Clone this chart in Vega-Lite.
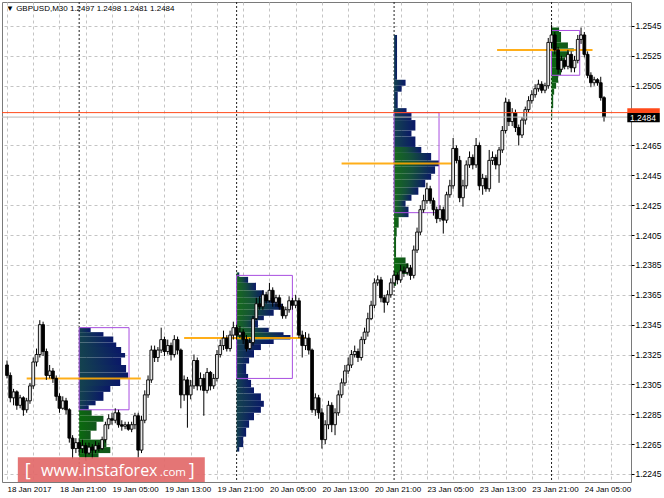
{
"$schema": "https://vega.github.io/schema/vega-lite/v6.json",
"width": 629, "height": 480,
"autosize": {"type": "none"},
"padding": {"left": 2, "top": 2, "right": 33, "bottom": 16},
"background": "#ffffff",
"title": {"text": "▼ GBPUSD,M30  1.2497 1.2498 1.2481 1.2484", "anchor": "start", "frame": "group", "offset": -11, "dx": 4, "fontSize": 8, "font": "Liberation Sans", "fontWeight": "normal", "color": "#000000"},
"config": {"view": {"stroke": "#7a7a7a", "strokeWidth": 1}},
"resolve": {"axis": {"x": "independent", "y": "independent"}},
"datasets": {
"candles": [
{"i":0,"o":1.2318,"h":1.2321,"l":1.2309,"c":1.2311},
{"i":1,"o":1.2311,"h":1.2313,"l":1.2293,"c":1.2296},
{"i":2,"o":1.2296,"h":1.2302,"l":1.2291,"c":1.2300},
{"i":3,"o":1.2300,"h":1.2301,"l":1.2288,"c":1.2291},
{"i":4,"o":1.2291,"h":1.2298,"l":1.2289,"c":1.2296},
{"i":5,"o":1.2296,"h":1.2297,"l":1.2284,"c":1.2288},
{"i":6,"o":1.2288,"h":1.2296,"l":1.2286,"c":1.2294},
{"i":7,"o":1.2294,"h":1.2306,"l":1.2292,"c":1.2304},
{"i":8,"o":1.2304,"h":1.2323,"l":1.2302,"c":1.2320},
{"i":9,"o":1.2320,"h":1.2329,"l":1.2317,"c":1.2325},
{"i":10,"o":1.2325,"h":1.2348,"l":1.2323,"c":1.2345},
{"i":11,"o":1.2345,"h":1.2347,"l":1.2324,"c":1.2327},
{"i":12,"o":1.2327,"h":1.2329,"l":1.2308,"c":1.2311},
{"i":13,"o":1.2311,"h":1.2318,"l":1.2309,"c":1.2314},
{"i":14,"o":1.2314,"h":1.2316,"l":1.2306,"c":1.2309},
{"i":15,"o":1.2309,"h":1.2311,"l":1.2294,"c":1.2297},
{"i":16,"o":1.2297,"h":1.2299,"l":1.2286,"c":1.2289},
{"i":17,"o":1.2289,"h":1.2297,"l":1.2288,"c":1.2294},
{"i":18,"o":1.2294,"h":1.2296,"l":1.2285,"c":1.2288},
{"i":19,"o":1.2288,"h":1.2289,"l":1.2266,"c":1.2269},
{"i":20,"o":1.2269,"h":1.2271,"l":1.2255,"c":1.2262},
{"i":21,"o":1.2262,"h":1.2269,"l":1.2259,"c":1.2266},
{"i":22,"o":1.2266,"h":1.2268,"l":1.2258,"c":1.2262},
{"i":23,"o":1.2262,"h":1.2268,"l":1.2259,"c":1.2264},
{"i":24,"o":1.2264,"h":1.2266,"l":1.2254,"c":1.2259},
{"i":25,"o":1.2259,"h":1.2266,"l":1.2258,"c":1.2263},
{"i":26,"o":1.2263,"h":1.2265,"l":1.2255,"c":1.2261},
{"i":27,"o":1.2261,"h":1.2267,"l":1.2259,"c":1.2264},
{"i":28,"o":1.2264,"h":1.2266,"l":1.2260,"c":1.2262},
{"i":29,"o":1.2262,"h":1.2270,"l":1.2261,"c":1.2268},
{"i":30,"o":1.2268,"h":1.2280,"l":1.2266,"c":1.2278},
{"i":31,"o":1.2278,"h":1.2285,"l":1.2275,"c":1.2282},
{"i":32,"o":1.2282,"h":1.2286,"l":1.2278,"c":1.2281},
{"i":33,"o":1.2281,"h":1.2289,"l":1.2279,"c":1.2286},
{"i":34,"o":1.2286,"h":1.2288,"l":1.2276,"c":1.2278},
{"i":35,"o":1.2278,"h":1.2281,"l":1.2274,"c":1.2277},
{"i":36,"o":1.2277,"h":1.2280,"l":1.2275,"c":1.2278},
{"i":37,"o":1.2278,"h":1.2280,"l":1.2274,"c":1.2275},
{"i":38,"o":1.2275,"h":1.2280,"l":1.2273,"c":1.2278},
{"i":39,"o":1.2278,"h":1.2286,"l":1.2275,"c":1.2284},
{"i":40,"o":1.2284,"h":1.2286,"l":1.2256,"c":1.2261},
{"i":41,"o":1.2261,"h":1.2284,"l":1.2259,"c":1.2281},
{"i":42,"o":1.2281,"h":1.2301,"l":1.2279,"c":1.2298},
{"i":43,"o":1.2298,"h":1.2311,"l":1.2296,"c":1.2308},
{"i":44,"o":1.2308,"h":1.2331,"l":1.2306,"c":1.2328},
{"i":45,"o":1.2328,"h":1.2331,"l":1.2320,"c":1.2323},
{"i":46,"o":1.2323,"h":1.2330,"l":1.2320,"c":1.2328},
{"i":47,"o":1.2328,"h":1.2343,"l":1.2326,"c":1.2335},
{"i":48,"o":1.2335,"h":1.2337,"l":1.2324,"c":1.2327},
{"i":49,"o":1.2327,"h":1.2335,"l":1.2325,"c":1.2331},
{"i":50,"o":1.2331,"h":1.2333,"l":1.2321,"c":1.2325},
{"i":51,"o":1.2325,"h":1.2338,"l":1.2323,"c":1.2335},
{"i":52,"o":1.2335,"h":1.2337,"l":1.2325,"c":1.2328},
{"i":53,"o":1.2328,"h":1.2329,"l":1.2289,"c":1.2298},
{"i":54,"o":1.2298,"h":1.2311,"l":1.2294,"c":1.2308},
{"i":55,"o":1.2308,"h":1.2310,"l":1.2276,"c":1.2298},
{"i":56,"o":1.2298,"h":1.2308,"l":1.2295,"c":1.2304},
{"i":57,"o":1.2304,"h":1.2325,"l":1.2302,"c":1.2321},
{"i":58,"o":1.2321,"h":1.2323,"l":1.2301,"c":1.2304},
{"i":59,"o":1.2304,"h":1.2313,"l":1.2301,"c":1.2309},
{"i":60,"o":1.2309,"h":1.2312,"l":1.2284,"c":1.2301},
{"i":61,"o":1.2301,"h":1.2316,"l":1.2299,"c":1.2313},
{"i":62,"o":1.2313,"h":1.2314,"l":1.2301,"c":1.2304},
{"i":63,"o":1.2304,"h":1.2312,"l":1.2302,"c":1.2309},
{"i":64,"o":1.2309,"h":1.2328,"l":1.2307,"c":1.2325},
{"i":65,"o":1.2325,"h":1.2335,"l":1.2323,"c":1.2331},
{"i":66,"o":1.2331,"h":1.2341,"l":1.2328,"c":1.2336},
{"i":67,"o":1.2336,"h":1.2338,"l":1.2327,"c":1.2329},
{"i":68,"o":1.2329,"h":1.2341,"l":1.2327,"c":1.2338},
{"i":69,"o":1.2338,"h":1.2347,"l":1.2335,"c":1.2343},
{"i":70,"o":1.2343,"h":1.2345,"l":1.2335,"c":1.2338},
{"i":71,"o":1.2338,"h":1.2344,"l":1.2336,"c":1.2340},
{"i":72,"o":1.2340,"h":1.2342,"l":1.2332,"c":1.2335},
{"i":73,"o":1.2335,"h":1.2338,"l":1.2327,"c":1.2329},
{"i":74,"o":1.2329,"h":1.2336,"l":1.2328,"c":1.2333},
{"i":75,"o":1.2333,"h":1.2351,"l":1.2331,"c":1.2349},
{"i":76,"o":1.2349,"h":1.2363,"l":1.2348,"c":1.2359},
{"i":77,"o":1.2359,"h":1.2364,"l":1.2355,"c":1.2357},
{"i":78,"o":1.2357,"h":1.2368,"l":1.2355,"c":1.2365},
{"i":79,"o":1.2365,"h":1.2367,"l":1.2359,"c":1.2361},
{"i":80,"o":1.2361,"h":1.2373,"l":1.2360,"c":1.2368},
{"i":81,"o":1.2368,"h":1.2370,"l":1.2357,"c":1.2360},
{"i":82,"o":1.2360,"h":1.2365,"l":1.2357,"c":1.2363},
{"i":83,"o":1.2363,"h":1.2365,"l":1.2355,"c":1.2357},
{"i":84,"o":1.2357,"h":1.2359,"l":1.2349,"c":1.2351},
{"i":85,"o":1.2351,"h":1.2357,"l":1.2349,"c":1.2355},
{"i":86,"o":1.2355,"h":1.2364,"l":1.2353,"c":1.2361},
{"i":87,"o":1.2361,"h":1.2363,"l":1.2355,"c":1.2358},
{"i":88,"o":1.2358,"h":1.2365,"l":1.2356,"c":1.2361},
{"i":89,"o":1.2361,"h":1.2363,"l":1.2336,"c":1.2338},
{"i":90,"o":1.2338,"h":1.2341,"l":1.2323,"c":1.2331},
{"i":91,"o":1.2331,"h":1.2340,"l":1.2328,"c":1.2336},
{"i":92,"o":1.2336,"h":1.2339,"l":1.2325,"c":1.2328},
{"i":93,"o":1.2328,"h":1.2329,"l":1.2286,"c":1.2288},
{"i":94,"o":1.2288,"h":1.2299,"l":1.2284,"c":1.2296},
{"i":95,"o":1.2296,"h":1.2298,"l":1.2282,"c":1.2286},
{"i":96,"o":1.2286,"h":1.2289,"l":1.2262,"c":1.2268},
{"i":97,"o":1.2268,"h":1.2281,"l":1.2265,"c":1.2278},
{"i":98,"o":1.2278,"h":1.2294,"l":1.2275,"c":1.2291},
{"i":99,"o":1.2291,"h":1.2293,"l":1.2273,"c":1.2278},
{"i":100,"o":1.2278,"h":1.2289,"l":1.2271,"c":1.2286},
{"i":101,"o":1.2286,"h":1.2301,"l":1.2284,"c":1.2298},
{"i":102,"o":1.2298,"h":1.2309,"l":1.2296,"c":1.2306},
{"i":103,"o":1.2306,"h":1.2318,"l":1.2304,"c":1.2314},
{"i":104,"o":1.2314,"h":1.2323,"l":1.2312,"c":1.2318},
{"i":105,"o":1.2318,"h":1.2328,"l":1.2316,"c":1.2325},
{"i":106,"o":1.2325,"h":1.2331,"l":1.2323,"c":1.2327},
{"i":107,"o":1.2327,"h":1.2329,"l":1.2320,"c":1.2323},
{"i":108,"o":1.2323,"h":1.2337,"l":1.2321,"c":1.2335},
{"i":109,"o":1.2335,"h":1.2343,"l":1.2332,"c":1.2340},
{"i":110,"o":1.2340,"h":1.2353,"l":1.2337,"c":1.2349},
{"i":111,"o":1.2349,"h":1.2361,"l":1.2348,"c":1.2358},
{"i":112,"o":1.2358,"h":1.2376,"l":1.2356,"c":1.2373},
{"i":113,"o":1.2373,"h":1.2378,"l":1.2371,"c":1.2375},
{"i":114,"o":1.2375,"h":1.2377,"l":1.2360,"c":1.2363},
{"i":115,"o":1.2363,"h":1.2365,"l":1.2353,"c":1.2360},
{"i":116,"o":1.2360,"h":1.2368,"l":1.2358,"c":1.2365},
{"i":117,"o":1.2365,"h":1.2376,"l":1.2363,"c":1.2373},
{"i":118,"o":1.2373,"h":1.2381,"l":1.2371,"c":1.2378},
{"i":119,"o":1.2378,"h":1.2380,"l":1.2372,"c":1.2375},
{"i":120,"o":1.2375,"h":1.2385,"l":1.2373,"c":1.2381},
{"i":121,"o":1.2381,"h":1.2384,"l":1.2377,"c":1.2380},
{"i":122,"o":1.2380,"h":1.2386,"l":1.2378,"c":1.2383},
{"i":123,"o":1.2383,"h":1.2385,"l":1.2375,"c":1.2378},
{"i":124,"o":1.2378,"h":1.2398,"l":1.2376,"c":1.2395},
{"i":125,"o":1.2395,"h":1.2410,"l":1.2393,"c":1.2407},
{"i":126,"o":1.2407,"h":1.2425,"l":1.2405,"c":1.2422},
{"i":127,"o":1.2422,"h":1.2432,"l":1.2420,"c":1.2428},
{"i":128,"o":1.2428,"h":1.2440,"l":1.2426,"c":1.2436},
{"i":129,"o":1.2436,"h":1.2438,"l":1.2426,"c":1.2428},
{"i":130,"o":1.2428,"h":1.2430,"l":1.2418,"c":1.2422},
{"i":131,"o":1.2422,"h":1.2424,"l":1.2413,"c":1.2416},
{"i":132,"o":1.2416,"h":1.2425,"l":1.2414,"c":1.2422},
{"i":133,"o":1.2422,"h":1.2424,"l":1.2406,"c":1.2415},
{"i":134,"o":1.2415,"h":1.2434,"l":1.2413,"c":1.2432},
{"i":135,"o":1.2432,"h":1.2442,"l":1.2430,"c":1.2438},
{"i":136,"o":1.2438,"h":1.2470,"l":1.2436,"c":1.2463},
{"i":137,"o":1.2463,"h":1.2465,"l":1.2453,"c":1.2455},
{"i":138,"o":1.2455,"h":1.2458,"l":1.2427,"c":1.2430},
{"i":139,"o":1.2430,"h":1.2442,"l":1.2424,"c":1.2438},
{"i":140,"o":1.2438,"h":1.2455,"l":1.2436,"c":1.2452},
{"i":141,"o":1.2452,"h":1.2461,"l":1.2450,"c":1.2457},
{"i":142,"o":1.2457,"h":1.2459,"l":1.2449,"c":1.2452},
{"i":143,"o":1.2452,"h":1.2470,"l":1.2450,"c":1.2465},
{"i":144,"o":1.2465,"h":1.2467,"l":1.2435,"c":1.2438},
{"i":145,"o":1.2438,"h":1.2446,"l":1.2432,"c":1.2443},
{"i":146,"o":1.2443,"h":1.2445,"l":1.2434,"c":1.2436},
{"i":147,"o":1.2436,"h":1.2462,"l":1.2434,"c":1.2455},
{"i":148,"o":1.2455,"h":1.2461,"l":1.2452,"c":1.2457},
{"i":149,"o":1.2457,"h":1.2459,"l":1.2449,"c":1.2452},
{"i":150,"o":1.2452,"h":1.2464,"l":1.2440,"c":1.2462},
{"i":151,"o":1.2462,"h":1.2478,"l":1.2460,"c":1.2475},
{"i":152,"o":1.2475,"h":1.2497,"l":1.2473,"c":1.2494},
{"i":153,"o":1.2494,"h":1.2496,"l":1.2478,"c":1.2481},
{"i":154,"o":1.2481,"h":1.2490,"l":1.2478,"c":1.2487},
{"i":155,"o":1.2487,"h":1.2489,"l":1.2474,"c":1.2477},
{"i":156,"o":1.2477,"h":1.2479,"l":1.2465,"c":1.2472},
{"i":157,"o":1.2472,"h":1.2484,"l":1.2470,"c":1.2482},
{"i":158,"o":1.2482,"h":1.2491,"l":1.2479,"c":1.2489},
{"i":159,"o":1.2489,"h":1.2498,"l":1.2487,"c":1.2495},
{"i":160,"o":1.2495,"h":1.2502,"l":1.2493,"c":1.2499},
{"i":161,"o":1.2499,"h":1.2506,"l":1.2497,"c":1.2503},
{"i":162,"o":1.2503,"h":1.2509,"l":1.2501,"c":1.2506},
{"i":163,"o":1.2506,"h":1.2508,"l":1.2500,"c":1.2502},
{"i":164,"o":1.2502,"h":1.2507,"l":1.2500,"c":1.2505},
{"i":165,"o":1.2505,"h":1.2537,"l":1.2503,"c":1.2534},
{"i":166,"o":1.2534,"h":1.2546,"l":1.2530,"c":1.2539},
{"i":167,"o":1.2539,"h":1.2541,"l":1.2526,"c":1.2529},
{"i":168,"o":1.2529,"h":1.2531,"l":1.2513,"c":1.2516},
{"i":169,"o":1.2516,"h":1.2525,"l":1.2514,"c":1.2522},
{"i":170,"o":1.2522,"h":1.2524,"l":1.2516,"c":1.2518},
{"i":171,"o":1.2518,"h":1.2529,"l":1.2516,"c":1.2526},
{"i":172,"o":1.2526,"h":1.2528,"l":1.2514,"c":1.2517},
{"i":173,"o":1.2517,"h":1.2525,"l":1.2514,"c":1.2522},
{"i":174,"o":1.2522,"h":1.2539,"l":1.2520,"c":1.2536},
{"i":175,"o":1.2536,"h":1.2544,"l":1.2533,"c":1.2539},
{"i":176,"o":1.2539,"h":1.2541,"l":1.2524,"c":1.2526},
{"i":177,"o":1.2526,"h":1.2528,"l":1.2510,"c":1.2512},
{"i":178,"o":1.2512,"h":1.2514,"l":1.2504,"c":1.2507},
{"i":179,"o":1.2507,"h":1.2511,"l":1.2505,"c":1.2509},
{"i":180,"o":1.2509,"h":1.2510,"l":1.2505,"c":1.2507},
{"i":181,"o":1.2507,"h":1.2511,"l":1.2495,"c":1.2497},
{"i":182,"o":1.2497,"h":1.2498,"l":1.2481,"c":1.2484}
],
"profile": [
{"d":22,"e":25.5,"lo":1.2340,"hi":1.2343,"t":"n"},
{"d":22,"e":29.4,"lo":1.2337,"hi":1.2340,"t":"n"},
{"d":22,"e":32.4,"lo":1.2333,"hi":1.2337,"t":"n"},
{"d":22,"e":33.3,"lo":1.2330,"hi":1.2333,"t":"n"},
{"d":22,"e":34.8,"lo":1.2326,"hi":1.2330,"t":"n"},
{"d":22,"e":36.0,"lo":1.2323,"hi":1.2326,"t":"n"},
{"d":22,"e":34.8,"lo":1.2318,"hi":1.2323,"t":"n"},
{"d":22,"e":36.3,"lo":1.2313,"hi":1.2318,"t":"n"},
{"d":22,"e":36.9,"lo":1.2309,"hi":1.2313,"t":"n"},
{"d":22,"e":34.5,"lo":1.2304,"hi":1.2309,"t":"n"},
{"d":22,"e":31.5,"lo":1.2300,"hi":1.2304,"t":"n"},
{"d":22,"e":29.4,"lo":1.2294,"hi":1.2300,"t":"n"},
{"d":22,"e":27.0,"lo":1.2291,"hi":1.2294,"t":"n"},
{"d":22,"e":24.9,"lo":1.2288,"hi":1.2291,"t":"n"},
{"d":22,"e":25.8,"lo":1.2284,"hi":1.2288,"t":"g"},
{"d":22,"e":29.4,"lo":1.2280,"hi":1.2284,"t":"g"},
{"d":22,"e":27.3,"lo":1.2274,"hi":1.2280,"t":"g"},
{"d":22,"e":25.5,"lo":1.2268,"hi":1.2274,"t":"g"},
{"d":22,"e":30.3,"lo":1.2263,"hi":1.2268,"t":"g"},
{"d":22,"e":31.5,"lo":1.2259,"hi":1.2263,"t":"g"},
{"d":22,"e":27.9,"lo":1.2256,"hi":1.2259,"t":"g"},
{"d":70,"e":70.8,"lo":1.2377,"hi":1.2380,"t":"b"},
{"d":70,"e":73.5,"lo":1.2373,"hi":1.2377,"t":"b"},
{"d":70,"e":75.9,"lo":1.2368,"hi":1.2373,"t":"b"},
{"d":70,"e":78.3,"lo":1.2363,"hi":1.2368,"t":"b"},
{"d":70,"e":82.5,"lo":1.2359,"hi":1.2363,"t":"b"},
{"d":70,"e":84.0,"lo":1.2355,"hi":1.2359,"t":"b"},
{"d":70,"e":81.3,"lo":1.2351,"hi":1.2355,"t":"b"},
{"d":70,"e":78.3,"lo":1.2348,"hi":1.2351,"t":"b"},
{"d":70,"e":76.5,"lo":1.2343,"hi":1.2348,"t":"b"},
{"d":70,"e":79.8,"lo":1.2340,"hi":1.2343,"t":"b"},
{"d":70,"e":84.3,"lo":1.2338,"hi":1.2340,"t":"b"},
{"d":70,"e":86.4,"lo":1.2335,"hi":1.2338,"t":"b"},
{"d":70,"e":81.3,"lo":1.2332,"hi":1.2335,"t":"n"},
{"d":70,"e":77.4,"lo":1.2328,"hi":1.2332,"t":"n"},
{"d":70,"e":75.3,"lo":1.2323,"hi":1.2328,"t":"n"},
{"d":70,"e":73.8,"lo":1.2319,"hi":1.2323,"t":"n"},
{"d":70,"e":72.9,"lo":1.2312,"hi":1.2319,"t":"n"},
{"d":70,"e":73.5,"lo":1.2308,"hi":1.2312,"t":"n"},
{"d":70,"e":74.4,"lo":1.2303,"hi":1.2308,"t":"n"},
{"d":70,"e":75.3,"lo":1.2299,"hi":1.2303,"t":"n"},
{"d":70,"e":77.4,"lo":1.2294,"hi":1.2299,"t":"n"},
{"d":70,"e":78.3,"lo":1.2290,"hi":1.2294,"t":"n"},
{"d":70,"e":77.4,"lo":1.2286,"hi":1.2290,"t":"n"},
{"d":70,"e":75.3,"lo":1.2281,"hi":1.2286,"t":"n"},
{"d":70,"e":73.8,"lo":1.2276,"hi":1.2281,"t":"n"},
{"d":70,"e":72.9,"lo":1.2270,"hi":1.2276,"t":"n"},
{"d":70,"e":72.0,"lo":1.2263,"hi":1.2270,"t":"n"},
{"d":70,"e":70.8,"lo":1.2260,"hi":1.2263,"t":"n"},
{"d":118,"e":118.9,"lo":1.2509,"hi":1.2539,"t":"n"},
{"d":118,"e":121.5,"lo":1.2505,"hi":1.2509,"t":"n"},
{"d":118,"e":120.3,"lo":1.2501,"hi":1.2505,"t":"n"},
{"d":118,"e":119.1,"lo":1.2490,"hi":1.2501,"t":"n"},
{"d":118,"e":121.8,"lo":1.2487,"hi":1.2490,"t":"n"},
{"d":118,"e":123.3,"lo":1.2482,"hi":1.2487,"t":"n"},
{"d":118,"e":124.5,"lo":1.2475,"hi":1.2482,"t":"n"},
{"d":118,"e":123.3,"lo":1.2471,"hi":1.2475,"t":"n"},
{"d":118,"e":124.5,"lo":1.2464,"hi":1.2471,"t":"n"},
{"d":118,"e":126.3,"lo":1.2460,"hi":1.2464,"t":"b"},
{"d":118,"e":129.3,"lo":1.2455,"hi":1.2460,"t":"b"},
{"d":118,"e":131.7,"lo":1.2451,"hi":1.2455,"t":"b"},
{"d":118,"e":130.5,"lo":1.2446,"hi":1.2451,"t":"b"},
{"d":118,"e":129.3,"lo":1.2442,"hi":1.2446,"t":"b"},
{"d":118,"e":127.5,"lo":1.2437,"hi":1.2442,"t":"b"},
{"d":118,"e":125.4,"lo":1.2432,"hi":1.2437,"t":"b"},
{"d":118,"e":123.3,"lo":1.2428,"hi":1.2432,"t":"b"},
{"d":118,"e":121.5,"lo":1.2424,"hi":1.2428,"t":"b"},
{"d":118,"e":122.4,"lo":1.2417,"hi":1.2424,"t":"b"},
{"d":118,"e":119.4,"lo":1.2410,"hi":1.2417,"t":"g"},
{"d":118,"e":118.8,"lo":1.2404,"hi":1.2410,"t":"g"},
{"d":118,"e":118.6,"lo":1.2390,"hi":1.2404,"t":"g"},
{"d":118,"e":121.5,"lo":1.2386,"hi":1.2390,"t":"g"},
{"d":118,"e":122.4,"lo":1.2379,"hi":1.2386,"t":"g"},
{"d":118,"e":120.3,"lo":1.2375,"hi":1.2379,"t":"g"},
{"d":118,"e":118.6,"lo":1.2371,"hi":1.2375,"t":"g"},
{"d":166,"e":168.3,"lo":1.2541,"hi":1.2544,"t":"g"},
{"d":166,"e":168.9,"lo":1.2534,"hi":1.2541,"t":"g"},
{"d":166,"e":171.0,"lo":1.2530,"hi":1.2534,"t":"g"},
{"d":166,"e":172.8,"lo":1.2528,"hi":1.2530,"t":"g"},
{"d":166,"e":171.3,"lo":1.2524,"hi":1.2528,"t":"g"},
{"d":166,"e":169.8,"lo":1.2517,"hi":1.2524,"t":"g"},
{"d":166,"e":168.9,"lo":1.2512,"hi":1.2517,"t":"g"},
{"d":166,"e":168.0,"lo":1.2507,"hi":1.2512,"t":"g"},
{"d":166,"e":167.4,"lo":1.2503,"hi":1.2507,"t":"g"},
{"d":166,"e":166.8,"lo":1.2499,"hi":1.2503,"t":"g"},
{"d":166,"e":166.5,"lo":1.2490,"hi":1.2499,"t":"g"},
{"d":166,"e":166.2,"lo":1.2483,"hi":1.2490,"t":"g"}
],
"va": [
{"d":22,"e":37.2,"lo":1.2288,"hi":1.2343},
{"d":70,"e":87.0,"lo":1.2309,"hi":1.2378},
{"d":118,"e":131.7,"lo":1.2420,"hi":1.2487},
{"d":166,"e":174.6,"lo":1.2512,"hi":1.2542}
],
"poc": [
{"a":6.0,"b":40.8,"p":1.2309},
{"a":54.0,"b":90.9,"p":1.2336},
{"a":102.0,"b":135.9,"p":1.2453},
{"a":149.4,"b":178.5,"p":1.2529}
],
"seps": [{"i":22},{"i":70},{"i":118},{"i":166}],
"quotes": [{"name":"ask","p":1.2487},{"name":"bid","p":1.2484}]
},
"layer": [
{
"data": {"name": "candles"},
"mark": {"type": "point", "opacity": 0},
"encoding": {
"x": {"field": "i", "type": "quantitative", "scale": {"domain": [0, 188.7], "nice": false, "zero": false},
"axis": {"orient": "bottom", "title": null, "values": [0,8,16,24,32,40,48,56,64,72,80,88,96,104,112,120,128,136,144,152,160,168,176,184],
"labelExpr": "datum.value % 16 == 0 ? ['18 Jan 2017','18 Jan 21:00','19 Jan 05:00','19 Jan 13:00','19 Jan 21:00','20 Jan 05:00','20 Jan 13:00','20 Jan 21:00','23 Jan 05:00','23 Jan 13:00','23 Jan 21:00','24 Jan 05:00'][datum.value / 16] : ''",
"grid": true, "gridColor": "#c4c4c4", "gridDash": [3,3], "gridWidth": 1, "domain": false, "ticks": false,
"labelAlign": "left", "labelBaseline": "top", "labelPadding": 3, "labelFont": "Liberation Sans", "labelFontSize": 8, "labelColor": "#000000", "labelOverlap": false, "labelFlush": false, "labelBound": false}},
"y": {"field": "l", "type": "quantitative", "scale": {"domain": [1.223964, 1.256107], "nice": false, "zero": false},
"axis": {"orient": "right", "title": null, "values": [1.2245,1.2265,1.2285,1.2305,1.2325,1.2345,1.2365,1.2385,1.2405,1.2425,1.2445,1.2465,1.2505,1.2525,1.2545],
"format": ".4f", "grid": true, "gridColor": "#c4c4c4", "gridDash": [3,3], "gridWidth": 1, "domain": false,
"ticks": true, "tickSize": 3, "tickColor": "#000000", "labelAlign": "left", "labelBaseline": "middle", "labelPadding": 1,
"labelFont": "Liberation Sans", "labelFontSize": 8.5, "labelColor": "#000000", "labelOverlap": false, "labelFlush": false, "labelBound": false}}
}
},
{
"data": {"name": "seps"},
"mark": {"type": "rule", "color": "#202020", "strokeWidth": 1, "strokeDash": [2,2]},
"encoding": {"x": {"field": "i", "type": "quantitative", "scale": {"domain": [0, 188.7], "nice": false, "zero": false}, "axis": null}}
},
{
"data": {"name": "profile"},
"transform": [{"filter": "datum.t == 'n'"}],
"mark": {"type": "rect", "color": {"gradient": "linear", "x1": 0, "y1": 0, "x2": 1, "y2": 0, "stops": [{"offset": 0, "color": "#14434e"}, {"offset": 1, "color": "#0a1868"}]}},
"encoding": {
"x": {"field": "d", "type": "quantitative", "scale": {"domain": [0, 188.7], "nice": false, "zero": false}, "axis": null},
"x2": {"field": "e"},
"y": {"field": "lo", "type": "quantitative", "scale": {"domain": [1.223964, 1.256107], "nice": false, "zero": false}, "axis": null},
"y2": {"field": "hi"}
}
},
{
"data": {"name": "profile"},
"transform": [{"filter": "datum.t == 'b'"}],
"mark": {"type": "rect", "color": {"gradient": "linear", "x1": 0, "y1": 0, "x2": 1, "y2": 0, "stops": [{"offset": 0, "color": "#176b1c"}, {"offset": 0.45, "color": "#14503a"}, {"offset": 1, "color": "#0b1a68"}]}},
"encoding": {
"x": {"field": "d", "type": "quantitative", "scale": {"domain": [0, 188.7], "nice": false, "zero": false}, "axis": null},
"x2": {"field": "e"},
"y": {"field": "lo", "type": "quantitative", "scale": {"domain": [1.223964, 1.256107], "nice": false, "zero": false}, "axis": null},
"y2": {"field": "hi"}
}
},
{
"data": {"name": "profile"},
"transform": [{"filter": "datum.t == 'g'"}],
"mark": {"type": "rect", "color": {"gradient": "linear", "x1": 0, "y1": 0, "x2": 1, "y2": 0, "stops": [{"offset": 0, "color": "#0b6a0e"}, {"offset": 1, "color": "#12561c"}]}},
"encoding": {
"x": {"field": "d", "type": "quantitative", "scale": {"domain": [0, 188.7], "nice": false, "zero": false}, "axis": null},
"x2": {"field": "e"},
"y": {"field": "lo", "type": "quantitative", "scale": {"domain": [1.223964, 1.256107], "nice": false, "zero": false}, "axis": null},
"y2": {"field": "hi"}
}
},
{
"data": {"name": "va"},
"mark": {"type": "rect", "fill": null, "fillOpacity": 0, "stroke": "#a84ee0", "strokeWidth": 1},
"encoding": {
"x": {"field": "d", "type": "quantitative", "scale": {"domain": [0, 188.7], "nice": false, "zero": false}, "axis": null},
"x2": {"field": "e"},
"y": {"field": "lo", "type": "quantitative", "scale": {"domain": [1.223964, 1.256107], "nice": false, "zero": false}, "axis": null},
"y2": {"field": "hi"}
}
},
{
"data": {"name": "poc"},
"mark": {"type": "rule", "color": "#ffa500", "strokeWidth": 2, "opacity": 0.9},
"encoding": {
"x": {"field": "a", "type": "quantitative", "scale": {"domain": [0, 188.7], "nice": false, "zero": false}, "axis": null},
"x2": {"field": "b"},
"y": {"field": "p", "type": "quantitative", "scale": {"domain": [1.223964, 1.256107], "nice": false, "zero": false}, "axis": null}
}
},
{
"data": {"name": "candles"},
"mark": {"type": "rule", "color": "#000000", "strokeWidth": 1},
"encoding": {
"x": {"field": "i", "type": "quantitative", "scale": {"domain": [0, 188.7], "nice": false, "zero": false}, "axis": null},
"y": {"field": "l", "type": "quantitative", "scale": {"domain": [1.223964, 1.256107], "nice": false, "zero": false}, "axis": null},
"y2": {"field": "h"}
}
},
{
"data": {"name": "candles"},
"mark": {"type": "bar", "width": 2.8, "stroke": "#000000", "strokeWidth": 0.9},
"encoding": {
"x": {"field": "i", "type": "quantitative", "scale": {"domain": [0, 188.7], "nice": false, "zero": false}, "axis": null},
"y": {"field": "o", "type": "quantitative", "scale": {"domain": [1.223964, 1.256107], "nice": false, "zero": false}, "axis": null},
"y2": {"field": "c"},
"color": {"condition": {"test": "datum.c >= datum.o", "value": "#e8e8e8"}, "value": "#000000"}
}
},
{
"data": {"name": "quotes"},
"mark": {"type": "rule", "strokeWidth": 1},
"encoding": {
"y": {"field": "p", "type": "quantitative", "scale": {"domain": [1.223964, 1.256107], "nice": false, "zero": false}, "axis": null},
"color": {"condition": {"test": "datum.name == 'ask'", "value": "#ff4a1a"}, "value": "#b8b8b8"}
}
},
{
"data": {"values": [{"k": "wm"}]},
"mark": {"type": "rect", "fill": "#e26a6a", "opacity": 0.93},
"encoding": {
"x": {"datum": 3.3, "type": "quantitative", "scale": {"domain": [0, 188.7], "nice": false, "zero": false}, "axis": null},
"x2": {"datum": 60.3},
"y": {"datum": 1.22396, "type": "quantitative", "scale": {"domain": [1.223964, 1.256107], "nice": false, "zero": false}, "axis": null},
"y2": {"datum": 1.22562}
}
},
{
"data": {"values": [{"s": "[", "x": 5.4, "sz": 18}, {"s": "www.instaforex", "x": 10.4, "sz": 16}, {"s": ".com", "x": 46.6, "sz": 11.5}, {"s": "]", "x": 55.4, "sz": 18}]},
"mark": {"type": "text", "color": "#ffffff", "font": "Open Sans", "align": "left", "baseline": "alphabetic"},
"encoding": {
"x": {"field": "x", "type": "quantitative", "scale": {"domain": [0, 188.7], "nice": false, "zero": false}, "axis": null},
"y": {"datum": 1.22435, "type": "quantitative", "scale": {"domain": [1.223964, 1.256107], "nice": false, "zero": false}, "axis": null},
"text": {"field": "s"},
"size": {"field": "sz", "type": "quantitative", "scale": null}
}
},
{
"data": {"values": [{"k": "ask"}]},
"mark": {"type": "rect", "fill": "#ff4a1a"},
"encoding": {
"x": {"datum": 189.1, "type": "quantitative", "scale": {"domain": [0, 188.7], "nice": false, "zero": false}, "axis": null},
"x2": {"datum": 199},
"y": {"datum": 1.24867, "type": "quantitative", "scale": {"domain": [1.223964, 1.256107], "nice": false, "zero": false}, "axis": null},
"y2": {"datum": 1.2490}
}
},
{
"data": {"values": [{"k": "bid"}]},
"mark": {"type": "rect", "fill": "#000000"},
"encoding": {
"x": {"datum": 189.1, "type": "quantitative", "scale": {"domain": [0, 188.7], "nice": false, "zero": false}, "axis": null},
"x2": {"datum": 199},
"y": {"datum": 1.24805, "type": "quantitative", "scale": {"domain": [1.223964, 1.256107], "nice": false, "zero": false}, "axis": null},
"y2": {"datum": 1.24867}
}
},
{
"data": {"values": [{"t": "1.2484"}]},
"mark": {"type": "text", "color": "#ffffff", "font": "Liberation Sans", "fontSize": 8.5, "align": "left", "baseline": "middle"},
"encoding": {
"x": {"datum": 189.9, "type": "quantitative", "scale": {"domain": [0, 188.7], "nice": false, "zero": false}, "axis": null},
"y": {"datum": 1.24836, "type": "quantitative", "scale": {"domain": [1.223964, 1.256107], "nice": false, "zero": false}, "axis": null},
"text": {"field": "t"}
}
}
]
}
